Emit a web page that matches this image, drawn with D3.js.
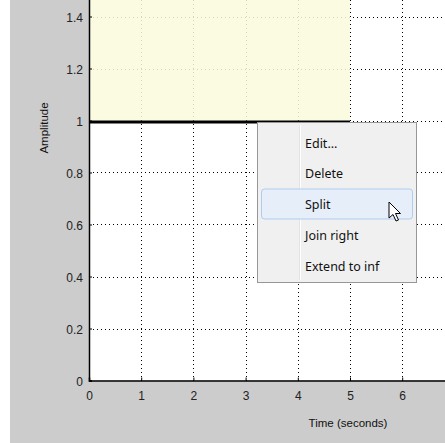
<!DOCTYPE html>
<html><head><meta charset="utf-8">
<script src="https://cdn.jsdelivr.net/npm/d3@7/dist/d3.min.js"></script>
<style>html,body{margin:0;padding:0;background:#fff;overflow:hidden}</style>
</head><body>
<svg id="c" width="445" height="443"></svg>
<script>
const xTicks = [0,1,2,3,4,5,6];
const yTicks = [0,0.2,0.4,0.6,0.8,1,1.2,1.4];
const yTickLabels = ["0","0.2","0.4","0.6","0.8","1","1.2","1.4"];
const segStart = [0];
const segEnd = [5];
const segAmp = [1];
const menuItems = ["Edit...","Delete","Split","Join right","Extend to inf"];
const highlighted = "Split";
const xLabel = "Time (seconds)";
const yLabel = "Amplitude";

const svg = d3.select("#c");
const x = d3.scaleLinear().domain([0,10]).range([89,611]);
const y = d3.scaleLinear().domain([0,2]).range([380.5,-139.5]);

// figure background
svg.append("rect").attr("x",10).attr("y",0).attr("width",435).attr("height",443).attr("fill","#cccccc");
// axes area
const ax = svg.append("g");
ax.append("rect").attr("x",x(0)).attr("y",y(2)).attr("width",x(10)-x(0)).attr("height",y(0)-y(2)).attr("fill","#fff");

// grid
const grid = ax.append("g").attr("stroke","#000").attr("stroke-width",1).attr("stroke-dasharray","1,3").attr("shape-rendering","crispEdges");
grid.selectAll(".gx").data(xTicks.slice(1).concat([7])).join("line")
  .attr("x1",d=>Math.round(x(d))+0.5).attr("x2",d=>Math.round(x(d))+0.5)
  .attr("y1",y(0)).attr("y2",y(2));
grid.selectAll(".gy").data(yTicks.slice(1)).join("line")
  .attr("y1",d=>Math.round(y(d))+0.5).attr("y2",d=>Math.round(y(d))+0.5)
  .attr("x1",x(0)).attr("x2",x(10));

// yellow region above segment
const segs = segStart.map((s,i)=>({s, e:segEnd[i], a:segAmp[i]}));
ax.selectAll(".seg").data(segs).join("rect")
  .attr("x",d=>x(d.s)).attr("y",y(2)).attr("width",d=>x(d.e)-x(d.s)).attr("height",d=>y(d.a)-y(2))
  .attr("fill","#fafadc").attr("fill-opacity",0.85);
ax.selectAll(".segl").data(segs).join("line")
  .attr("x1",d=>x(d.s)).attr("x2",d=>x(d.e)).attr("y1",d=>y(d.a)+1.5).attr("y2",d=>y(d.a)+1.5)
  .attr("stroke","#000").attr("stroke-width",3);

// axes
const xAxis = d3.axisBottom(x).tickValues(xTicks).tickSize(-3).tickPadding(11).tickFormat(d3.format("d"));
const gx = ax.append("g").attr("transform",`translate(0,${y(0)})`).call(xAxis);
const yAxis = d3.axisLeft(y).tickValues(yTicks).tickSize(-3).tickPadding(6).tickFormat((d,i)=>yTickLabels[i]);
const gy = ax.append("g").attr("transform",`translate(${x(0)},0)`).call(yAxis);
[gx,gy].forEach(g=>{
  g.select(".domain").attr("stroke","#000").attr("stroke-width",1.5);
  g.selectAll(".tick line").attr("stroke","#000");
  g.selectAll("text").attr("font-family","Liberation Sans, Arial, sans-serif").attr("font-size",12).attr("fill","#222");
});
gy.selectAll(".tick text").attr("dy","0.42em");

svg.append("text").attr("x",348).attr("y",427).attr("text-anchor","middle")
  .attr("font-family","Liberation Sans, Arial, sans-serif").attr("font-size",11.5).attr("fill","#111").text(xLabel);
svg.append("text").attr("transform","translate(48,128) rotate(-90)").attr("text-anchor","middle")
  .attr("font-family","Liberation Sans, Arial, sans-serif").attr("font-size",11.5).attr("fill","#111").text(yLabel);

// context menu
const m = svg.append("g");
m.append("rect").attr("x",257.5).attr("y",122.5).attr("width",159).attr("height",160)
  .attr("fill","#f0f0f0").attr("stroke","#979797");
m.append("line").attr("x1",299.5).attr("x2",299.5).attr("y1",125).attr("y2",280).attr("stroke","#e2e3e3");
m.append("line").attr("x1",300.5).attr("x2",300.5).attr("y1",125).attr("y2",280).attr("stroke","#ffffff");
const itemY = d3.scalePoint().domain(menuItems).range([143,266]);
m.append("rect").attr("x",261.5).attr("y",itemY(highlighted)-15.5).attr("width",151).attr("height",30)
  .attr("rx",3).attr("fill","#e6eefa").attr("stroke","#aecdf0");
m.selectAll(".it").data(menuItems).join("text")
  .attr("x",305).attr("y",d=>itemY(d)).attr("dy","0.36em")
  .attr("font-family","Noto Sans, DejaVu Sans, sans-serif").attr("font-size",12.5).attr("fill","#111").text(d=>d);

// mouse cursor
const cx = 389, cy = 202;
svg.append("path").attr("transform",`translate(${cx},${cy})`)
  .attr("d","M0,0 L0,16 L4,12.5 L7,19 L9.5,18 L6.5,11.5 L11.5,11.5 Z")
  .attr("fill","#fff").attr("stroke","#000").attr("stroke-width",1).attr("stroke-linejoin","miter");
</script>
</body></html>
